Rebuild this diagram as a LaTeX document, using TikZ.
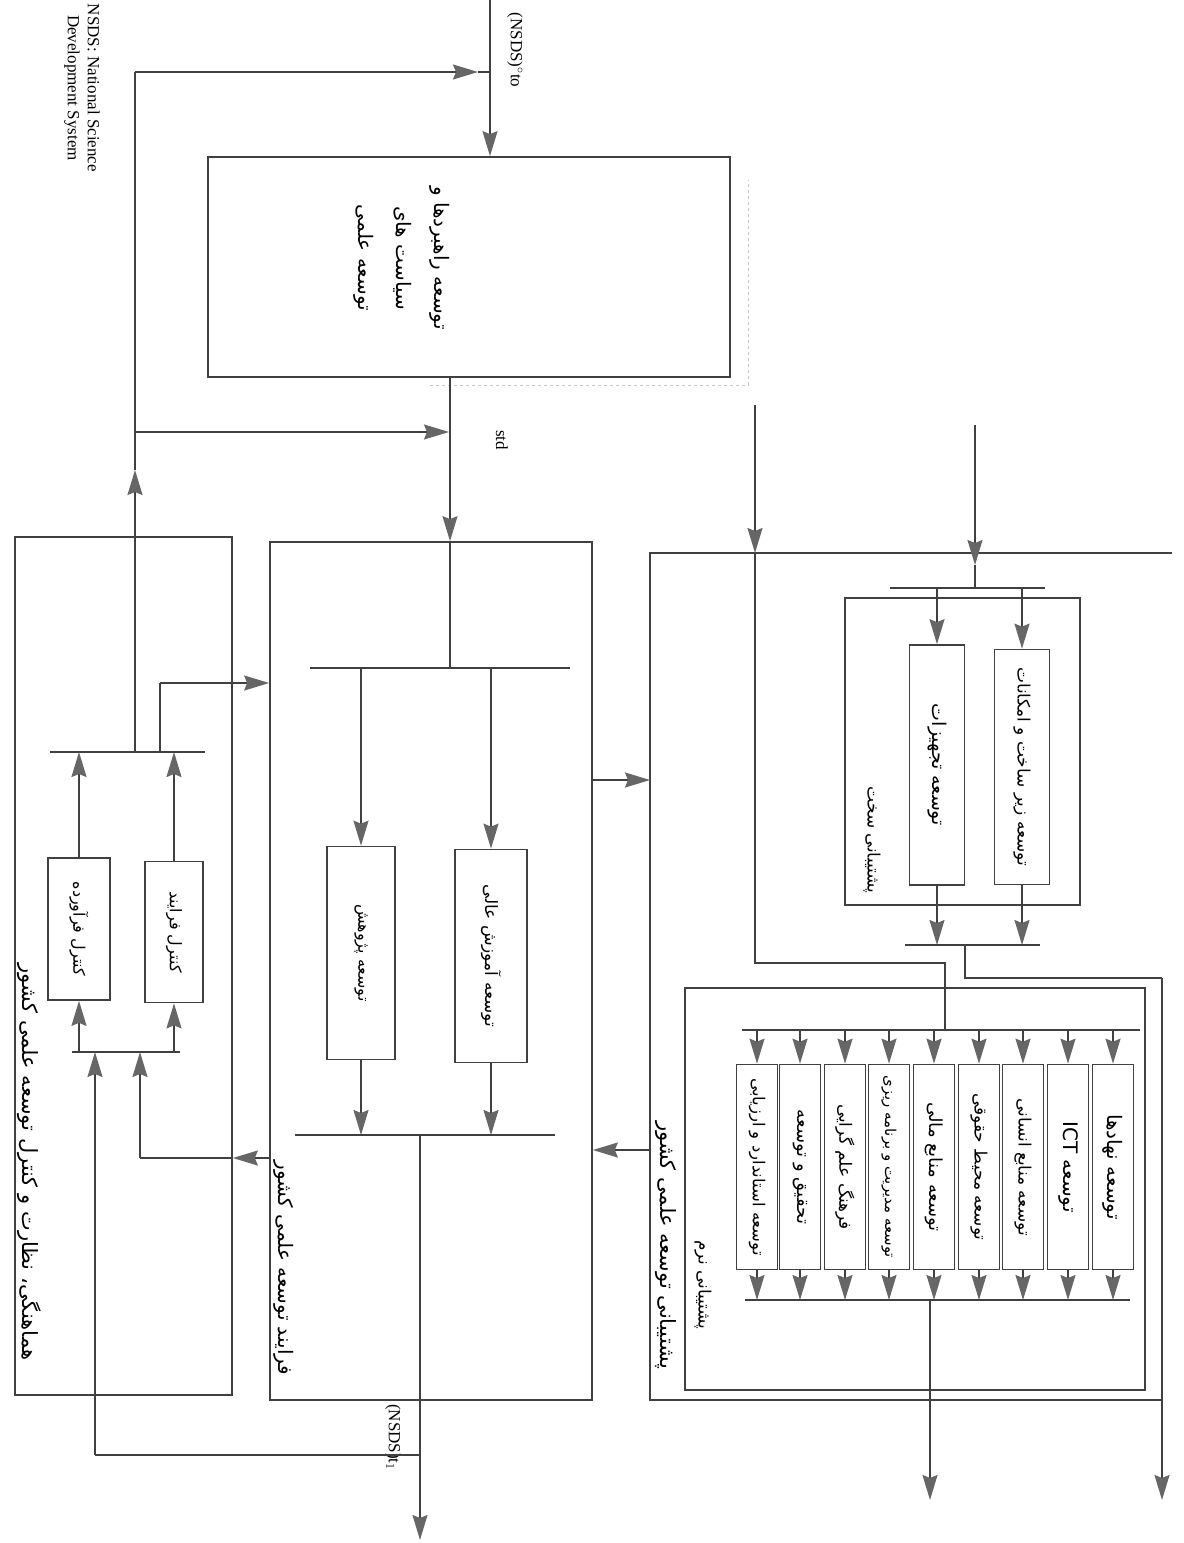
\documentclass[tikz,border=0pt]{standalone}
\usepackage{fontspec}
\usetikzlibrary{arrows.meta}
\TeXXeTstate=1
\setmainfont{Liberation Serif}
\newfontfamily\fa[Script=Arabic]{DejaVu Sans}
\definecolor{lc}{HTML}{404040}
\definecolor{ahc}{HTML}{666666}
\newcommand{\fs}[1]{\fa\fontsize{#1}{#1}\selectfont}
\begin{document}
\begin{tikzpicture}[x=1pt,y=-1pt,
  ln/.style={draw=lc, line width=1.7pt},
  arr/.style={ln, -{Stealth[length=25pt,width=15pt,inset=3pt,color=ahc]}},
  frame/.style={draw=lc, line width=1.7pt, rectangle, inner sep=0pt},
  bx/.style={draw=lc, line width=1.7pt, fill=white, rectangle, inner sep=0pt, rotate=-90, font=\fs{16}},
  lab/.style={rotate=-90, font=\fs{17}, inner sep=0pt},
  en/.style={rotate=-90, font=\fontsize{17}{20}\selectfont, inner sep=0pt, align=center}]
\useasboundingbox (0,0) rectangle (1184,1543);
\fill[white] (0,0) rectangle (1184,1543);

% ---------- top box ----------
\node[frame, minimum width=522, minimum height=220] (tb) at (469,267) {};
\node[lab, align=center, font=\fa\fontsize{20}{38}\selectfont] (tbt) at (402,258)
  {\beginR توسعه راهبردها و\endR\\\beginR سیاست های\endR\\\beginR توسعه علمی\endR};
\draw[gray!45, dashed, line width=0.8pt] (430,385) -- (748,385) -- (748,180);

\node[en] (t0) at (515,50) {(NSDS)$^{\circ}$to};
\node[en] (stdl) at (502,440) {std};
\node[en] (nsds) at (82,88) {NSDS: National Science\\Development System};
\node[en] (t1) at (393,1437) {(NSDS)t$_1$};

\coordinate (in0) at (490,0);
\coordinate (j1) at (490,72);
\coordinate (fbT) at (135,72);
\coordinate (fbA) at (478,72);
\draw[ln] (in0) -- (j1);
\draw[arr] (j1) -- (tb.north -| j1);
\draw[arr] (fbT) -- (fbA);
\draw[ln] (fbA) -- (j1);

% ---------- process box ----------
\node[frame, minimum width=322, minimum height=858] (pr) at (431,971) {};
\node[lab, font=\fs{20}] (prl) at (284,1268) {\beginR فرایند توسعه علمی کشور\endR};
\coordinate (s0) at (450,377);
\coordinate (pbus) at (450,668);
\draw[arr] (s0) -- (pr.north -| s0);
\draw[ln] (pr.north -| s0) -- (pbus);
\draw[ln] (310,668) -- (570,668);
\node[bx, minimum width=213, minimum height=72, font=\fs{17}] (pa) at (491,956) {\beginR توسعه آموزش عالی\endR};
\node[bx, minimum width=213, minimum height=68] (pb) at (361,953) {\beginR توسعه پژوهش\endR};
\draw[arr] (pa.west |- pbus) -- (pa.west);
\draw[arr] (pb.west |- pbus) -- (pb.west);
\coordinate (pbus2) at (420,1135);
\draw[arr] (pa.east) -- (pa.east |- pbus2);
\draw[arr] (pb.east) -- (pb.east |- pbus2);
\draw[ln] (295,1135) -- (555,1135);
\coordinate (pout) at (420,1540);
\coordinate (pj) at (420,1455);
\draw[arr] (pbus2) -- (pout);

% ---------- control box ----------
\node[frame, minimum width=217, minimum height=858] (ct) at (123.5,966) {};
\node[lab, font=\fs{21}] (ctl) at (29,1162) {\beginR هماهنگی، نظارت و کنترل توسعه علمی کشور\endR};
\node[bx, minimum width=141, minimum height=58] (cf) at (174,932) {\beginR کنترل فرایند\endR};
\node[bx, minimum width=142, minimum height=62] (cp) at (79,929) {\beginR کنترل فرآورده\endR};
\coordinate (cbus) at (135,752);
\coordinate (cbus2) at (140,1052);
\draw[ln] (50,752) -- (205,752);
\draw[ln] (72,1052) -- (180,1052);
\draw[arr] (cf.west) -- (cf.west |- cbus);
\draw[arr] (cp.west) -- (cp.west |- cbus);
\draw[arr] (cf.east |- cbus2) -- (cf.east);
\draw[arr] (cp.east |- cbus2) -- (cp.east);
% feedback up
\coordinate (fbm) at (135,470);
\draw[arr] (cbus) -- (fbm);
\draw[ln] (fbm) -- (fbT);
% branch to std
\coordinate (br0) at (135,432);
\coordinate (br1) at (449,432);
\draw[arr] (br0) -- (br1);
% branch to process
\coordinate (c2p0) at (160,752);
\coordinate (c2p1) at (160,683);
\draw[ln] (c2p0) -- (c2p1);
\draw[arr] (c2p1) -- (pr.west |- c2p1);
% process to control
\coordinate (p2c) at (140,1158);
\draw[arr] (pr.west |- p2c) -- (ct.east |- p2c);
\draw[ln] (ct.east |- p2c) -- (p2c);
\draw[arr] (p2c) -- (cbus2);
% output feedback to control
\coordinate (o2c) at (95,1455);
\draw[ln] (pj) -- (o2c);
\draw[arr] (o2c) -- (o2c |- cbus2);

% ---------- support outer ----------
\coordinate (soTL) at (650,553);
\coordinate (soBL) at (650,1400);
\draw[ln] (1172,553) -- (soTL) -- (soBL) -- (1162,1400);
\node[lab, font=\fs{21}] (sol) at (666,1245) {\beginR پشتیبانی توسعه علمی کشور\endR};
\coordinate (p2s) at (650,780);
\coordinate (s2p) at (650,1150);
\draw[arr] (pr.east |- p2s) -- (p2s);
\draw[arr] (s2p) -- (pr.east |- s2p);

% ---------- hardware ----------
\node[frame, minimum width=235, minimum height=307] (hw) at (962.5,751.5) {};
\node[lab] (hwl) at (872,840) {\beginR پشتیبانی سخت\endR};
\coordinate (hin) at (975,425);
\coordinate (hina) at (975,565);
\coordinate (hbus) at (975,588);
\draw[arr] (hin) -- (hina);
\draw[ln] (hina) -- (hbus);
\draw[ln] (890,588) -- (1045,588);
\node[bx, minimum width=235, minimum height=55, font=\fs{17}] (h1) at (1022,767) {\beginR توسعه زیر ساخت و امکانات\endR};
\node[bx, minimum width=240, minimum height=55, font=\fs{19}] (h2) at (937,765) {\beginR توسعه تجهیزات\endR};
\draw[arr] (h1.west |- hbus) -- (h1.west);
\draw[arr] (h2.west |- hbus) -- (h2.west);
\coordinate (hbus2) at (965,945);
\draw[arr] (h1.east) -- (h1.east |- hbus2);
\draw[arr] (h2.east) -- (h2.east |- hbus2);
\draw[ln] (905,945) -- (1040,945);
\coordinate (hout0) at (1162,978);
\coordinate (hout1) at (1162,1500);
\draw[ln] (hbus2) -- (965,978) -- (hout0);
\draw[arr] (hout0) -- (hout1);

% ---------- software ----------
\node[frame, minimum width=460, minimum height=402] (sw) at (915,1189) {};
\node[lab] (swl) at (703,1285) {\beginR پشتیبانی نرم\endR};
\coordinate (sin) at (755,405);
\coordinate (sina) at (755,553);
\coordinate (sbus) at (945,1030);
\draw[arr] (sin) -- (sina);
\draw[ln] (sina) -- (755,963) -- (945,963) -- (sbus);
\draw[ln] (742,1030) -- (1140,1030);
\node[bx, minimum width=205, minimum height=41, font=\fs{20}] (s1) at (1113,1167) {\beginR توسعه نهادها\endR};
\node[bx, minimum width=205, minimum height=41, font=\fs{20}] (s2) at (1068,1167) {\beginR توسعه \beginL ICT\endL\endR};
\node[bx, minimum width=205, minimum height=41, font=\fs{17}] (s3) at (1023,1167) {\beginR توسعه منابع انسانی\endR};
\node[bx, minimum width=205, minimum height=41, font=\fs{17}] (s4) at (979,1167) {\beginR توسعه محیط حقوقی\endR};
\node[bx, minimum width=205, minimum height=41, font=\fs{18}] (s5) at (934,1167) {\beginR توسعه منابع مالی\endR};
\node[bx, minimum width=205, minimum height=41, font=\fs{15}] (s6) at (889,1167) {\beginR توسعه مدیریت و برنامه ریزی\endR};
\node[bx, minimum width=205, minimum height=41, font=\fs{17}] (s7) at (845,1167) {\beginR فرهنگ علم گرایی\endR};
\node[bx, minimum width=205, minimum height=41, font=\fs{18}] (s8) at (800,1167) {\beginR تحقیق و توسعه\endR};
\node[bx, minimum width=205, minimum height=41, font=\fs{16.5}] (s9) at (757,1167) {\beginR توسعه استاندارد و ارزیابی\endR};
\coordinate (sbus2) at (930,1300);
\foreach \i in {1,...,9}{
  \draw[arr] (s\i.west |- sbus) -- (s\i.west);
  \draw[arr] (s\i.east) -- (s\i.east |- sbus2);
}
\draw[ln] (745,1300) -- (1130,1300);
\coordinate (sout) at (930,1500);
\draw[arr] (sbus2) -- (sout);
\end{tikzpicture}
\end{document}
